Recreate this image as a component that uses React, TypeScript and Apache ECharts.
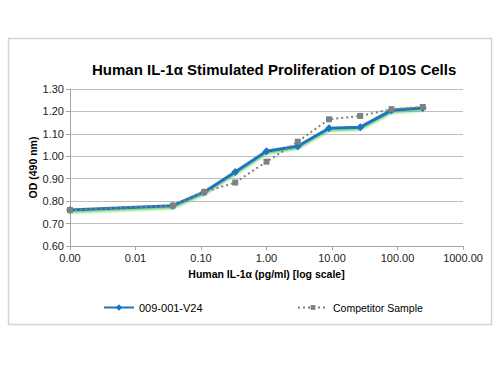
import React, { useEffect, useRef } from "react";
import * as echarts from "echarts";

const concentrations = [0.001, 0.037, 0.111, 0.333, 1, 3, 9, 27, 81, 243];
const v24Values = [0.76, 0.78, 0.84, 0.93, 1.022, 1.045, 1.125, 1.13, 1.205, 1.215];
const competitorValues = [0.76, 0.78, 0.84, 0.883, 0.976, 1.065, 1.165, 1.18, 1.21, 1.22];
const yTicks = [0.6, 0.7, 0.8, 0.9, 1.0, 1.1, 1.2, 1.3];
const seriesNames = ["009-001-V24", "Competitor Sample"];

const FONT = "'Liberation Sans', Arial, sans-serif";

export default function App() {
  const ref = useRef<HTMLDivElement>(null);
  useEffect(() => {
    document.body.style.margin = "0";
    if (!ref.current) return;
    const chart = echarts.init(ref.current, undefined, { renderer: "svg" });
    const blue = "#1f74bd";
    const gray = "#808080";
    chart.setOption({
      animation: false,
      backgroundColor: "#ffffff",
      textStyle: { fontFamily: FONT },
      title: {
        text: "Human IL-1α Stimulated Proliferation of D10S Cells",
        left: 87,
        top: 57,
        textStyle: { fontSize: 15, fontWeight: "bold", color: "#000", fontFamily: FONT },
      },
      graphic: [
        {
          type: "rect",
          shape: { x: 8.5, y: 38.5, width: 483, height: 286 },
          style: { fill: "none", stroke: "#d4d4d4", lineWidth: 1.5 },
          z: -1,
          silent: true,
        },
      ],
      legend: [
        {
          data: [seriesNames[0]],
          left: 98,
          top: 297,
          itemWidth: 30,
          itemHeight: 8,
          itemGap: 4,
          textStyle: { fontSize: 11, color: "#000", fontFamily: FONT },
        },
        {
          data: [seriesNames[1]],
          left: 292,
          top: 297,
          itemWidth: 30,
          itemHeight: 6,
          textStyle: { fontSize: 10.5, color: "#000", fontFamily: FONT },
        },
      ],
      grid: { left: 70, right: 37, top: 89, bottom: 129 },
      xAxis: {
        type: "log",
        logBase: 10,
        min: 0.001,
        max: 1000,
        name: "Human IL-1α (pg/ml) [log scale]",
        nameLocation: "middle",
        nameGap: 22,
        nameTextStyle: { fontSize: 10.5, fontWeight: "bold", color: "#000", fontFamily: FONT },
        axisLine: { show: true, lineStyle: { color: "#a6a6a6" } },
        axisTick: { show: true, length: 4, lineStyle: { color: "#a6a6a6" } },
        axisLabel: {
          fontSize: 11,
          color: "#222",
          margin: 6,
          formatter: (v: number) => v.toFixed(2),
        },
        splitLine: { show: false },
        minorTick: { show: false },
      },
      yAxis: {
        type: "value",
        min: yTicks[0],
        max: yTicks[yTicks.length - 1],
        interval: 0.1,
        name: "OD (490 nm)",
        nameLocation: "middle",
        nameGap: 32,
        nameMoveOverlap: false,
        nameTextStyle: { fontSize: 10.5, fontWeight: "bold", color: "#000", fontFamily: FONT },
        axisLine: { show: true, lineStyle: { color: "#a6a6a6" } },
        axisTick: { show: true, length: 4, lineStyle: { color: "#a6a6a6" } },
        axisLabel: {
          fontSize: 11,
          color: "#222",
          margin: 6,
          formatter: (v: number) => v.toFixed(2),
        },
        splitLine: { show: true, lineStyle: { color: "#bfbfbf", width: 1 } },
      },
      series: [
        {
          name: seriesNames[0],
          type: "line",
          data: concentrations.map((c, i) => [c, v24Values[i]]),
          symbol: "diamond",
          symbolSize: 8,
          lineStyle: {
            color: blue,
            width: 3,
            shadowColor: "rgba(80,200,80,0.9)",
            shadowOffsetY: 1.5,
            shadowBlur: 2,
          },
          itemStyle: { color: blue },
          z: 2,
        },
        {
          name: seriesNames[1],
          type: "line",
          data: concentrations.map((c, i) => [c, competitorValues[i]]),
          symbol: "rect",
          symbolSize: 6,
          lineStyle: { color: gray, width: 2, type: [2, 3] },
          itemStyle: { color: gray },
          z: 3,
        },
      ],
    });
    return () => chart.dispose();
  }, []);
  return <div ref={ref} style={{ width: 500, height: 375 }} />;
}
